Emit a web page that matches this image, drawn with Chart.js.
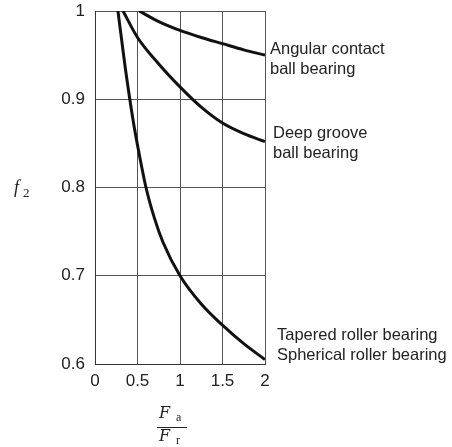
<!DOCTYPE html>
<html>
<head>
<meta charset="utf-8">
<script src="https://cdn.jsdelivr.net/npm/chart.js@4/dist/chart.umd.min.js"></script>
<style>
  html, body { margin: 0; padding: 0; background: #fff; }
  #wrap { width: 452px; height: 447px; position: relative; }
</style>
</head>
<body>
<div id="wrap"><canvas id="bearingChart"></canvas></div>
<script>
// values (Fa/Fr -> f2)
const xTicks = [0, 0.5, 1, 1.5, 2];
const yTicks = [0.6, 0.7, 0.8, 0.9, 1];

const angularX = [0.52, 0.75, 1, 1.25, 1.5, 1.75, 2];
const angularY = [1, 0.988, 0.978, 0.97, 0.963, 0.956, 0.95];

const deepX = [0.33, 0.5, 0.75, 1, 1.25, 1.5, 1.75, 2];
const deepY = [1, 0.97, 0.94, 0.914, 0.891, 0.873, 0.861, 0.852];

const rollerX = [0.27, 0.35, 0.45, 0.5, 0.6, 0.7, 0.8, 1, 1.25, 1.5, 1.75, 2];
const rollerY = [1, 0.94, 0.875, 0.848, 0.8, 0.765, 0.738, 0.7, 0.668, 0.644, 0.623, 0.605];

const seriesNames = ['Angular contact ball bearing', 'Deep groove ball bearing', 'Tapered roller bearing / Spherical roller bearing'];

const toPoints = (xs, ys) => xs.map((x, i) => ({x: x, y: ys[i]}));

// label text next to each curve end
const curveLabels = [
  {lines: ['Angular contact', 'ball bearing'], series: 0, dx: 5, dy: [-6, 14]},
  {lines: ['Deep groove', 'ball bearing'], series: 1, dx: 8, dy: [-8, 12]},
  {lines: ['Tapered roller bearing', 'Spherical roller bearing'], series: 2, dx: 12, dy: [-24, -4]}
];

const textPlugin = {
  id: 'bearingText',
  afterDraw(chart) {
    const c = chart.ctx;
    const area = chart.chartArea;
    const yScale = chart.scales.y;
    c.save();
    c.fillStyle = '#222';
    c.textBaseline = 'middle';
    c.textAlign = 'left';
    c.font = "16.5px 'Liberation Sans', Arial, sans-serif";
    curveLabels.forEach(lbl => {
      const data = chart.data.datasets[lbl.series].data;
      const endY = yScale.getPixelForValue(data[data.length - 1].y);
      lbl.lines.forEach((t, i) => c.fillText(t, area.right + lbl.dx, endY + lbl.dy[i]));
    });

    // y axis title: f2
    c.textBaseline = 'alphabetic';
    c.font = "italic 18px 'Liberation Serif', serif";
    c.fillText('f', 14, 193);
    c.font = "13px 'Liberation Serif', serif";
    c.fillText('2', 23, 197);

    // x axis title: Fa / Fr
    const fx = area.left + 62;
    c.font = "italic 16px 'DejaVu Serif', serif";
    c.fillText('F', fx + 2, 418);
    c.fillText('F', fx + 2, 441);
    c.font = "12px 'Liberation Serif', serif";
    c.fillText('a', fx + 19, 421);
    c.fillText('r', fx + 19, 444);
    c.strokeStyle = '#222';
    c.lineWidth = 1;
    c.beginPath();
    c.moveTo(fx, 427.5);
    c.lineTo(fx + 30, 427.5);
    c.stroke();
    c.restore();
  }
};

const lineStyle = {
  borderColor: '#111',
  borderWidth: 3,
  pointRadius: 0,
  fill: false,
  cubicInterpolationMode: 'monotone'
};

new Chart(document.getElementById('bearingChart'), {
  type: 'line',
  data: {
    datasets: [
      Object.assign({label: seriesNames[0], data: toPoints(angularX, angularY)}, lineStyle),
      Object.assign({label: seriesNames[1], data: toPoints(deepX, deepY)}, lineStyle),
      Object.assign({label: seriesNames[2], data: toPoints(rollerX, rollerY)}, lineStyle)
    ]
  },
  options: {
    responsive: true,
    maintainAspectRatio: false,
    animation: false,
    layout: {padding: {top: 11, right: 187, left: 0, bottom: 0}},
    plugins: {
      legend: {display: false},
      tooltip: {enabled: false}
    },
    scales: {
      x: {
        type: 'linear',
        min: 0,
        max: 2,
        afterBuildTicks: s => { s.ticks = xTicks.map(v => ({value: v})); },
        afterFit: s => { s.height = 83; s.paddingLeft = 0; s.paddingRight = 0; },
        ticks: {
          color: '#222',
          padding: 7,
          font: {family: "'Liberation Sans', Arial, sans-serif", size: 17},
          callback: v => String(v)
        },
        grid: {color: '#555', lineWidth: 1, drawTicks: false},
        border: {color: '#333', width: 1}
      },
      y: {
        type: 'linear',
        min: 0.6,
        max: 1,
        afterBuildTicks: s => { s.ticks = yTicks.map(v => ({value: v})); },
        afterFit: s => { s.width = 95; s.paddingTop = 0; s.paddingBottom = 0; },
        ticks: {
          color: '#222',
          padding: 10,
          font: {family: "'Liberation Sans', Arial, sans-serif", size: 17},
          callback: v => String(v)
        },
        grid: {color: '#555', lineWidth: 1, drawTicks: false},
        border: {color: '#333', width: 1}
      }
    }
  },
  plugins: [textPlugin]
});
</script>
</body>
</html>
